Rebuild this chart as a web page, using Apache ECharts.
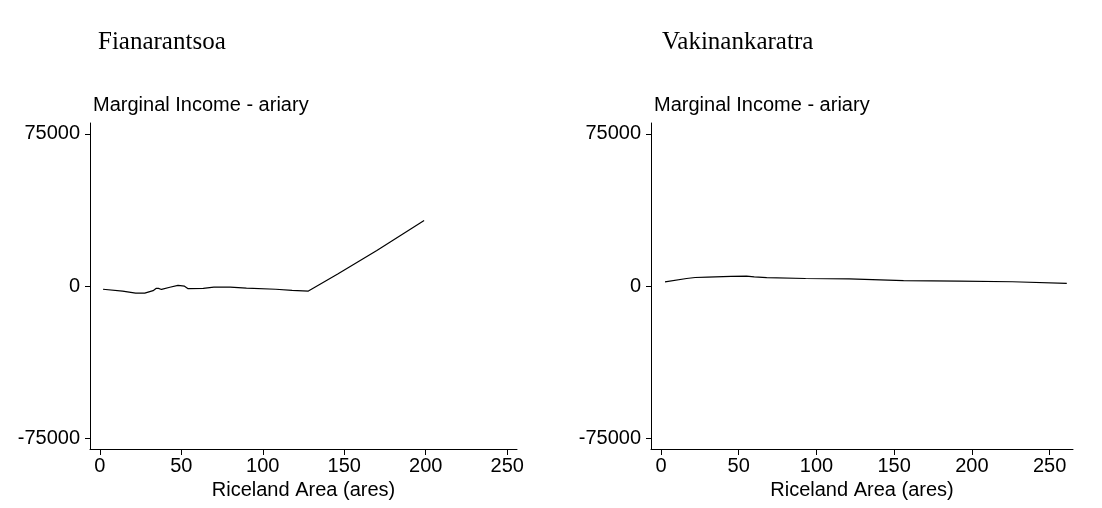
<!DOCTYPE html>
<html>
<head>
<meta charset="utf-8">
<script src="https://cdn.jsdelivr.net/npm/echarts@6/dist/echarts.min.js"></script>
<style>
    html, body { margin: 0; padding: 0; background: #fff; }
    #chart { width: 1102px; height: 508px; }
</style>
</head>
<body>
<div id="chart"></div>
<script>
// 数据：[面积(ares), 边际收入(ariary)]
const regionNames = ['Fianarantsoa', 'Vakinankaratra'];
const xTicks = [0, 50, 100, 150, 200, 250];
const yTicks = [-75000, 0, 75000];

const fianarantsoaData = [
    [2, -1600], [14, -2500], [22, -3500], [27.6, -3500], [32.7, -2300],
    [34.5, -1200], [36, -1200], [37.9, -1700], [43, -600], [48, 300],
    [52, -100], [53, -700], [54.2, -1300], [63.5, -1200], [70, -600],
    [80, -600], [90, -1000], [108, -1600], [118, -2200], [128, -2500],
    [146, 5900], [170, 17500], [199, 32300]
];

const vakinankaratraData = [
    [2.6, 2000], [16.5, 3700], [22, 4200], [30, 4400], [45, 4700],
    [55, 4900], [60, 4500], [68, 4100], [93, 3700], [121, 3500],
    [156, 2700], [192, 2400], [226, 2100], [261, 1300]
];

const fontSans = '"Liberation Sans", Arial, sans-serif';
const fontSerif = '"Liberation Serif", "Times New Roman", serif';

function makeXAxis(gridIndex, min, max) {
    return {
        type: 'value',
        gridIndex: gridIndex,
        min: min,
        max: max,
        name: 'Riceland Area (ares)',
        nameLocation: 'middle',
        nameGap: 24,
        nameTextStyle: { color: '#000', fontSize: 20, fontFamily: fontSans },
        axisLine: { onZero: false, lineStyle: { color: '#000', width: 1 } },
        axisTick: { customValues: xTicks, length: 6, lineStyle: { color: '#000' } },
        axisLabel: {
            customValues: xTicks, color: '#000', fontSize: 20, fontFamily: fontSans, margin: 7,
            formatter: v => String(v)
        },
        splitLine: { show: false }
    };
}

function makeYAxis(gridIndex) {
    return {
        type: 'value',
        gridIndex: gridIndex,
        min: -80400,
        max: 80400,
        name: 'Marginal Income - ariary',
        nameLocation: 'end',
        nameGap: 8,
        nameTextStyle: { color: '#000', fontSize: 20, fontFamily: fontSans, align: 'left', padding: [0, 0, 0, 3] },
        axisLine: { show: true, onZero: false, lineStyle: { color: '#000', width: 1 } },
        axisTick: { show: true, customValues: yTicks, length: 5, lineStyle: { color: '#000' } },
        axisLabel: {
            customValues: yTicks, color: '#000', fontSize: 20, fontFamily: fontSans, margin: 10,
            formatter: v => String(v)
        },
        splitLine: { show: false }
    };
}

function makeSeries(index, data) {
    return {
        type: 'line',
        xAxisIndex: index,
        yAxisIndex: index,
        data: data,
        showSymbol: false,
        smooth: false,
        lineStyle: { color: '#000', width: 1.2 },
        animation: false
    };
}

const chart = echarts.init(document.getElementById('chart'));

const option = {
    backgroundColor: '#fff',
    animation: false,
    title: [
        {
            text: regionNames[0], left: 98, top: 30, padding: 0,
            textStyle: { color: '#000', fontSize: 25, fontWeight: 'normal', fontFamily: fontSerif }
        },
        {
            text: regionNames[1], left: 662, top: 30, padding: 0,
            textStyle: { color: '#000', fontSize: 25, fontWeight: 'normal', fontFamily: fontSerif }
        }
    ],
    grid: [
        { left: 90, top: 123, width: 427, height: 326 },
        { left: 651, top: 123, width: 422, height: 326 }
    ],
    xAxis: [makeXAxis(0, -6, 256), makeXAxis(1, -6.4, 265)],
    yAxis: [makeYAxis(0), makeYAxis(1)],
    series: [makeSeries(0, fianarantsoaData), makeSeries(1, vakinankaratraData)]
};

chart.setOption(option);
</script>
</body>
</html>
